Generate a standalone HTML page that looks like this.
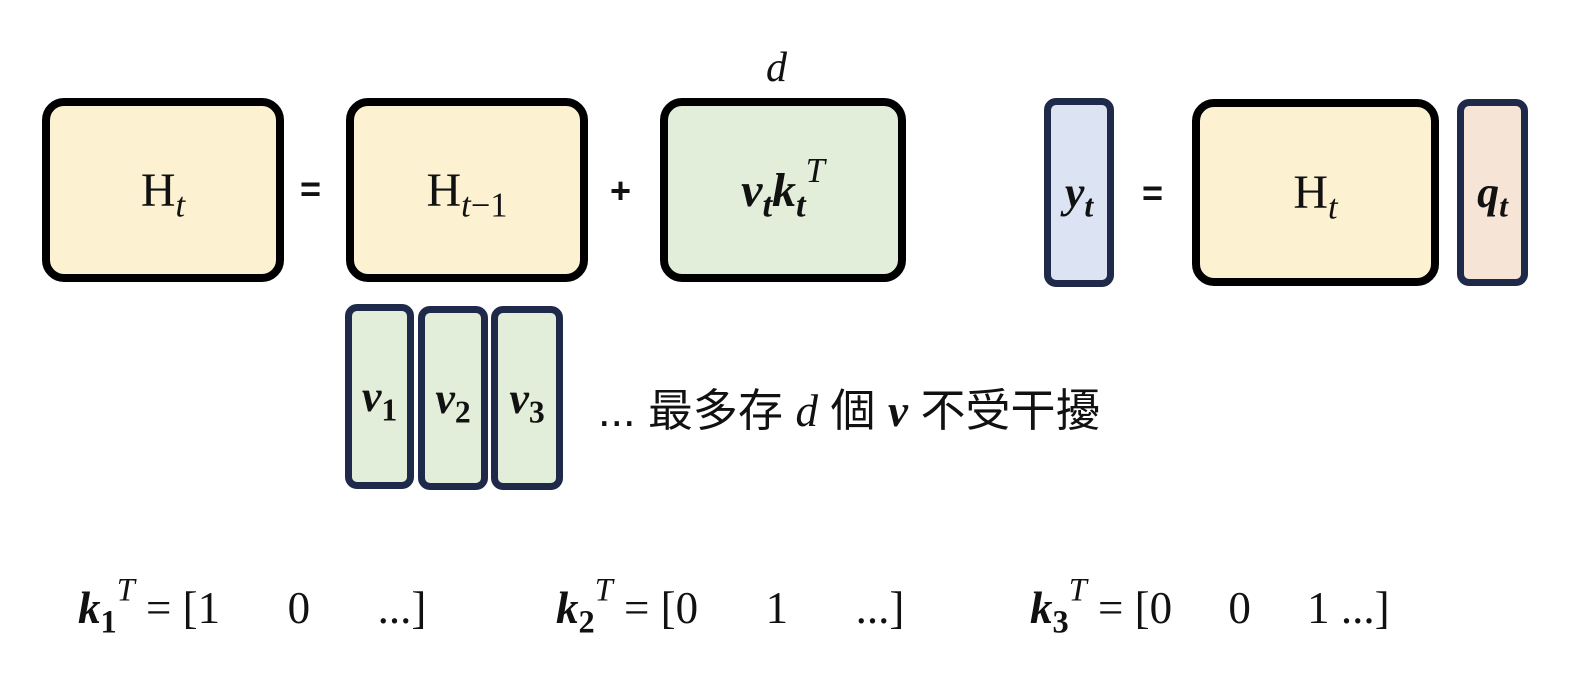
<!DOCTYPE html>
<html><head><meta charset="utf-8"><style>
body{margin:0;width:1570px;height:676px;background:#fff;position:relative;overflow:hidden;font-family:"Liberation Serif","Noto Serif CJK SC",serif;}
.b{position:absolute;box-sizing:border-box;border:8px solid #000;border-radius:22px;display:flex;align-items:center;justify-content:center;font-size:48px;color:#111;}
.y{background:#fcf2d2}.g{background:#e2eed9}
.s{position:absolute;box-sizing:border-box;border:7px solid #1f2a4a;border-radius:12px;display:flex;align-items:center;justify-content:center;font-size:44px;font-weight:bold;font-style:italic;color:#111;}
.t{position:absolute;white-space:nowrap;color:#111;}
i{font-style:italic}
sub{font-size:0.72em;vertical-align:-0.3em;line-height:0}
sup{font-size:0.72em;vertical-align:0.7em;line-height:0}
.op{font-family:"Liberation Sans",sans-serif;font-weight:bold;font-size:36px;}
</style></head><body>
<div class="t" style="left:766px;top:44px;font-size:42px;"><i>d</i></div>
<div class="b y" style="left:42px;top:98px;width:242px;height:184px;"><span>H<sub><i>t</i></sub></span></div>
<div class="t op" style="left:300px;top:168px;">=</div>
<div class="b y" style="left:346px;top:98px;width:242px;height:184px;"><span>H<sub><i>t</i>−1</sub></span></div>
<div class="t op" style="left:610px;top:170px;">+</div>
<div class="b g" style="left:660px;top:98px;width:246px;height:184px;font-weight:bold;font-style:italic;"><span>v<sub>t</sub>k<sub>t</sub><sup style="font-weight:normal">T</sup></span></div>
<div class="s" style="left:1044px;top:98px;width:70px;height:189px;background:#dce3f2;"><span>y<sub>t</sub></span></div>
<div class="t op" style="left:1142px;top:172px;">=</div>
<div class="b y" style="left:1192px;top:99px;width:247px;height:187px;"><span>H<sub><i>t</i></sub></span></div>
<div class="s" style="left:1457px;top:99px;width:71px;height:187px;background:#f6e4d7;"><span>q<sub>t</sub></span></div>
<div class="s g" style="left:345px;top:304px;width:69px;height:185px;"><span>v<sub style="font-style:normal">1</sub></span></div>
<div class="s g" style="left:418px;top:306px;width:70px;height:184px;"><span>v<sub style="font-style:normal">2</sub></span></div>
<div class="s g" style="left:491px;top:306px;width:72px;height:184px;"><span>v<sub style="font-style:normal">3</sub></span></div>
<div class="t" style="left:598px;top:374px;font-size:45px;font-family:'Liberation Sans','Noto Sans CJK TC',sans-serif;">... 最多存 <i style="font-family:'Liberation Serif',serif">d</i> 個 <b style="font-family:'Liberation Serif',serif"><i>v</i></b> 不受干擾</div>
<div class="t" style="left:78px;top:582px;font-size:45px;"><b><i>k</i><sub>1</sub></b><sup><i>T</i></sup> = [1&nbsp;&nbsp;&nbsp;&nbsp;&nbsp;&nbsp;0&nbsp;&nbsp;&nbsp;&nbsp;&nbsp;&nbsp;...]</div>
<div class="t" style="left:556px;top:582px;font-size:45px;"><b><i>k</i><sub>2</sub></b><sup><i>T</i></sup> = [0&nbsp;&nbsp;&nbsp;&nbsp;&nbsp;&nbsp;1&nbsp;&nbsp;&nbsp;&nbsp;&nbsp;&nbsp;...]</div>
<div class="t" style="left:1030px;top:582px;font-size:45px;"><b><i>k</i><sub>3</sub></b><sup><i>T</i></sup> = [0&nbsp;&nbsp;&nbsp;&nbsp;&nbsp;0&nbsp;&nbsp;&nbsp;&nbsp;&nbsp;1 ...]</div>
</body></html>
